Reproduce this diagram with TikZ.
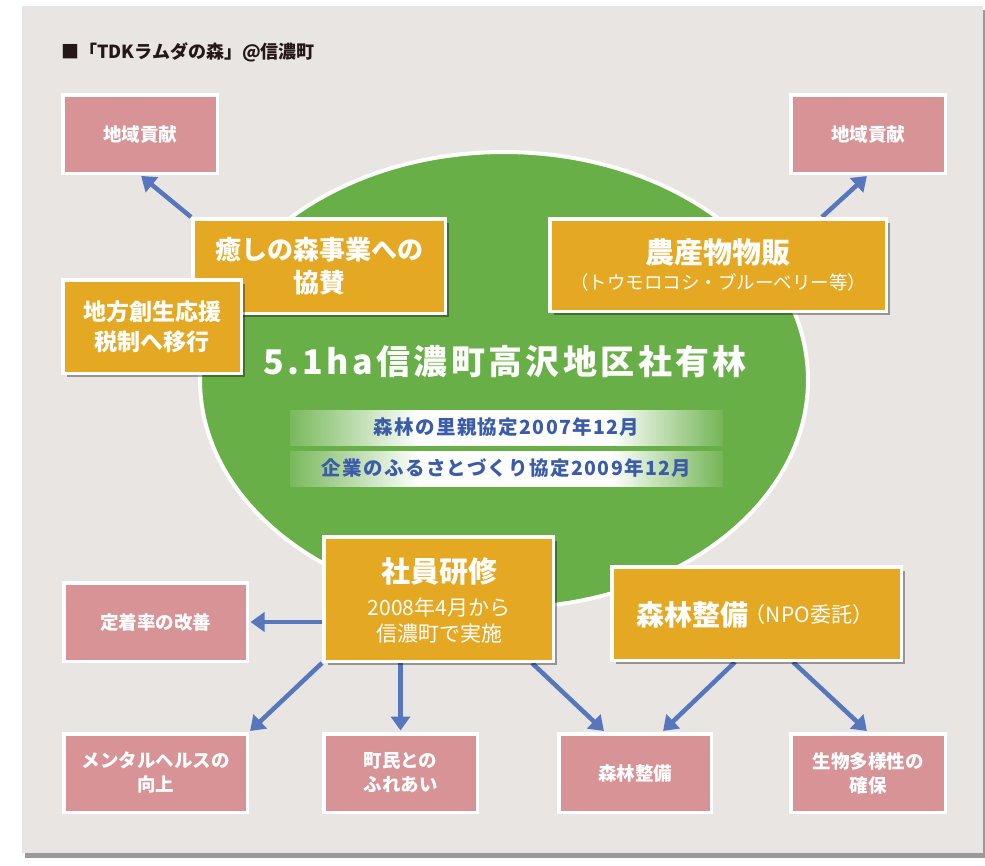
\documentclass[tikz,border=0pt]{standalone}
\usepackage{fontspec}
\setmainfont{Noto Sans CJK JP}
\usetikzlibrary{arrows.meta,shadows,shapes.geometric,calc}
\definecolor{panelbg}{HTML}{E9E5E2}
\definecolor{pinkfill}{HTML}{D79396}
\definecolor{orangefill}{HTML}{E5A823}
\definecolor{grn}{HTML}{67AF46}
\definecolor{arrowblue}{HTML}{5677BE}
\definecolor{bannerblue}{HTML}{3A5CA9}
\definecolor{titlecol}{HTML}{231815}
\pgfdeclarehorizontalshading{bannershade}{100bp}{color(0bp)=(grn!88!white); color(25bp)=(grn!88!white); color(40bp)=(white); color(62bp)=(white); color(75bp)=(grn!92!white); color(100bp)=(grn!92!white)}
\pgfdeclarelayer{back}
\pgfdeclarelayer{mid}
\pgfsetlayers{back,mid,main}
\begin{document}
\begin{tikzpicture}[x=1pt,y=-1pt,
  boxsize/.style 2 args={minimum width={#1pt-3.5pt}, minimum height={#2pt-3.5pt}},
  pinknode/.style={draw=white, line width=3.5pt, fill=pinkfill, text=white, align=center, inner sep=0pt,
    font=\fontsize{18.5}{24}\selectfont\bfseries},
  orangenode/.style={draw=white, line width=3.5pt, fill=orangefill, text=white, align=center, inner sep=0pt,
    drop shadow={shadow xshift=4pt, shadow yshift=-4pt, fill=black, opacity=0.35}},
  txt/.style={text=white, inner sep=0pt, align=center},
  banner/.style={shade, shading=bannershade, minimum width=433pt, minimum height=35pt, inner sep=0pt,
    text=bannerblue, font=\fontsize{19.5}{22}\selectfont\bfseries\addfontfeature{LetterSpace=7}},
  flow/.style={draw=arrowblue, line width=4.5pt, -{Triangle[length=14pt,width=19pt]}, shorten >=1.5pt}
]
\useasboundingbox (0,0) rectangle (985,865);
\begin{pgfonlayer}{back}
  \fill[white] (0,0) rectangle (985,865);
  \fill[black!40] (25,10) rectangle (985,858);
  \fill[panelbg] (22,6) rectangle (983,853);
  \node[ellipse, fill=grn, draw=white, line width=4pt, minimum width=608pt, minimum height=456pt, inner sep=0pt] (forest) at (504,380) {};
  \node[banner] (band1) at (506.5,427.5) {森林の里親協定2007年12月};
  \node[banner] (band2) at (506.5,468.5) {企業のふるさとづくり協定2009年12月};
  \node[txt, font=\fontsize{34}{36}\selectfont\bfseries\addfontfeature{LetterSpace=10}] (area) at (505,362) {5.1ha信濃町高沢地区社有林};
\end{pgfonlayer}

\node[anchor=west, inner sep=0pt, text=titlecol, font=\fontsize{18}{20}\selectfont\bfseries] (title) at (61,52) {■「TDKラムダの森」@信濃町};

% pink result boxes
\node[pinknode, boxsize={158}{82}] (tl) at (140,134) {地域貢献};
\node[pinknode, boxsize={158}{82}] (tr) at (868,134) {地域貢献};
\node[pinknode, boxsize={187}{82}] (teichaku) at (155.5,622) {定着率の改善};
\node[pinknode, boxsize={187}{82}] (mental) at (155.5,773) {メンタルヘルスの\\向上};
\node[pinknode, boxsize={157}{82}] (chomin) at (400.5,773) {町民との\\ふれあい};
\node[pinknode, boxsize={156}{82}] (shinrin) at (635,773) {森林整備};
\node[pinknode, boxsize={158}{82}] (seibutsu) at (868,773) {生物多様性の\\確保};

% orange activity boxes
\node[orangenode, boxsize={256}{98}, font=\fontsize{26}{33}\selectfont\bfseries] (iyashi) at (319,266) {癒しの森事業への\\協賛};
\node[orangenode, boxsize={182}{97}, font=\fontsize{23}{30}\selectfont\bfseries] (chiho) at (152,326.5) {地方創生応援\\税制へ移行};
\node[orangenode, boxsize={340}{96}] (nosan) at (718,265) {};
\node[txt, font=\fontsize{29}{30}\selectfont\bfseries] (nosant) at (718,253) {農産物物販};
\node[txt, font=\fontsize{18.5}{20}\selectfont] (nosans) at (718,282) {（トウモロコシ・ブルーベリー等）};
\node[orangenode, boxsize={233}{128}] (shain) at (438.5,599) {};
\node[txt, font=\fontsize{29}{30}\selectfont\bfseries] (shaint) at (439,572) {社員研修};
\node[txt, font=\fontsize{21}{26}\selectfont] (shains) at (439,620) {2008年4月から\\信濃町で実施};
\node[orangenode, boxsize={293}{97}] (npo) at (756.5,613.5) {};
\node[txt, font=\fontsize{28}{30}\selectfont\bfseries] (npot) at (755,615) {森林整備{\fontsize{21}{22}\selectfont\mdseries\kern-4pt\raisebox{3.5pt}{（NPO委託）}}};

% connectors
\begin{pgfonlayer}{mid}
  \draw[flow] (iyashi.north west) -- (tl.south);
  \draw[flow] ([xshift=-66pt]nosan.north east) -- (tr.south);
  \draw[flow] (shain.west |- teichaku.east) -- (teichaku.east);
  \draw[flow] (shain.south west) -- (mental.north east);
  \draw[flow] (chomin.north |- shain.south) -- (chomin.north);
  \draw[flow] ([xshift=-23pt]shain.south east) -- ([xshift=48pt]shinrin.north west);
  \draw[flow] ([xshift=125pt]npo.south west) -- ([xshift=105pt]shinrin.north west);
  \draw[flow] ([xshift=183pt]npo.south west) -- (seibutsu.north);
\end{pgfonlayer}
\end{tikzpicture}
\end{document}
